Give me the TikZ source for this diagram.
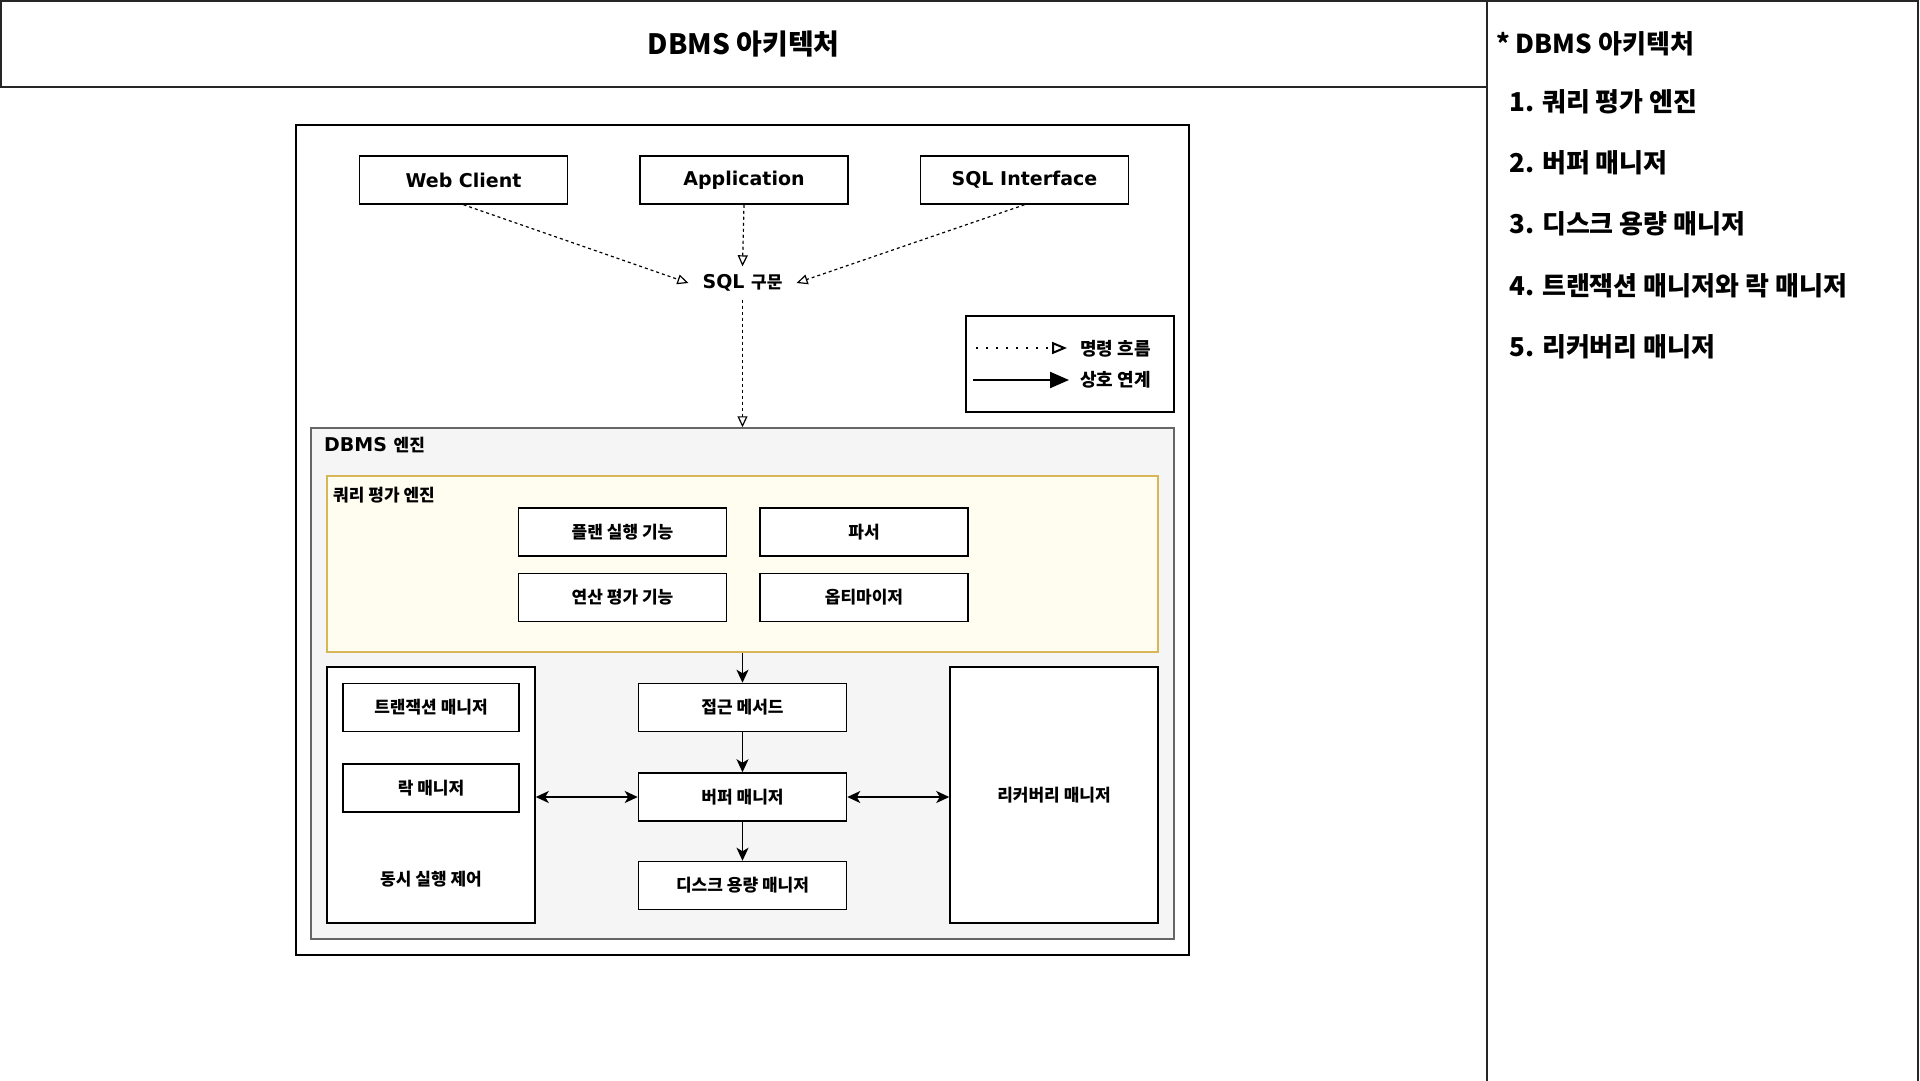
\documentclass[tikz,border=0pt]{standalone}
\usepackage{fontspec}
\setmainfont{DejaVu Sans}
\newfontfamily\kr{Noto Sans CJK KR}
\newfontfamily\krheavy{Noto Sans CJK KR Black}
\usetikzlibrary{arrows.meta,positioning}
\definecolor{qfill}{HTML}{FFFDF0}
\definecolor{qline}{HTML}{D6B656}
\definecolor{engfill}{HTML}{F5F5F5}
\definecolor{engline}{HTML}{666666}

\begin{document}
\begin{tikzpicture}[
  x=1pt,y=-1pt,
  >={Stealth[length=13pt,width=12pt,inset=3.5pt]},
  latin/.style={font=\bfseries\fontsize{19}{22}\selectfont},
  hangul/.style={font=\kr\bfseries\fontsize{17}{20}\selectfont},
  frame/.style={draw=black!85,line width=1.5pt,inner sep=0pt},
  box/.style={draw=black,line width=1.5pt,fill=white,minimum width=208pt,minimum height=48pt,inner sep=0pt},
  small box/.style={box,minimum width=176pt},
  tall box/.style={box,minimum height=256pt},
  group/.style={draw=engline,line width=1.5pt,fill=engfill,inner sep=0pt},
  query/.style={draw=qline,line width=1.5pt,fill=qfill,inner sep=0pt},
  flow/.style={line width=1.2pt,dash pattern=on 3pt off 3pt,-{Triangle[open,length=11pt,width=10pt]}},
  link/.style={line width=1.5pt,->},
  heading/.style={font=\krheavy\fontsize{28}{32}\selectfont},
  item/.style={font=\krheavy\fontsize{26}{30}\selectfont,anchor=west,inner sep=0pt},
  legend text/.style={font=\kr\bfseries\fontsize{18}{21}\selectfont,anchor=west,inner sep=0pt}
]
\useasboundingbox (0,0) rectangle (1920,1080);

% title band and notes
\node[frame,heading,minimum width=1486pt,minimum height=86pt] (title) at (743.75,43.75) {DBMS 아키텍처};
\draw[frame] (1487,1081) |- (1918,0.75) -- (1918,1081);
\node[item] (notes) at (1496,44) {* DBMS 아키텍처};
\node[item] (note1) at (1509,102) {1. 쿼리 평가 엔진};
\node[item] (note2) at (1509,163) {2. 버퍼 매니저};
\node[item] (note3) at (1509,224) {3. 디스크 용량 매니저};
\node[item] (note4) at (1509,286) {4. 트랜잭션 매니저와 락 매니저};
\node[item] (note5) at (1509,347) {5. 리커버리 매니저};

% diagram frame and clients
\node[frame,draw=black,minimum width=893pt,minimum height=830pt] (diagram) at (742.5,540) {};
\node[box,latin] (web) at (463.5,180) {Web Client};
\node[box,latin,right=71pt of web] (app) {Application};
\node[box,latin,right=71pt of app] (sqlif) {SQL Interface};
\node[latin,inner xsep=14pt,inner ysep=8pt,text height=14pt,text depth=3pt] (sql) at (742.5,283) {SQL {\kr\fontsize{17}{20}\selectfont 구문}};

% legend
\node[frame,draw=black,minimum width=208pt,minimum height=96pt] (legend) at (1070,364) {};
\node[legend text] (cmd) at (1080,349) {명령 흐름};
\node[legend text] (rel) at (1080,380) {상호 연계};
\coordinate (cmd start) at (976,348);
\coordinate (rel start) at (973,380);
\draw[line width=2pt,dash pattern=on 2pt off 8pt,-{Triangle[open,length=15pt,width=12pt]}] (cmd start) -- ([xshift=-13pt]cmd.west |- cmd start);
\draw[line width=2.2pt,-{Triangle[length=19pt,width=16pt]}] (rel start) -- ([xshift=-11pt]rel.west |- rel start);

% DBMS engine
\node[group,minimum width=863pt,minimum height=511pt] (engine) at (742.5,683.5) {};
\node[latin,anchor=west,inner sep=0pt] (engine label) at (324,445) {DBMS {\kr\fontsize{17}{20}\selectfont 엔진}};
\node[query,minimum width=831pt,minimum height=176pt] (qe) at (742.5,564) {};
\node[hangul,anchor=west,inner sep=0pt] (qe label) at (333,495) {쿼리 평가 엔진};
\node[box,hangul] (plan) at (622.5,532) {플랜 실행 기능};
\node[box,hangul,right=32pt of plan] (parser) {파서};
\node[box,hangul,below=16pt of plan] (oper) {연산 평가 기능};
\node[box,hangul,below=16pt of parser] (optim) {옵티마이저};

% storage side
\node[tall box] (conc) at (431,795) {};
\node[small box,hangul] (tx) at (431,707.5) {트랜잭션 매니저};
\node[small box,hangul,below=31pt of tx] (lock) {락 매니저};
\node[hangul] (conc label) at (431,879) {동시 실행 제어};
\node[box,hangul] (access) at (742.5,707.5) {접근 메서드};
\node[box,hangul,below=40pt of access] (buffer) {버퍼 매니저};
\node[box,hangul,below=39pt of buffer] (disk) {디스크 용량 매니저};
\node[tall box,hangul] (recovery) at (1054,795) {리커버리 매니저};

\draw[flow] (web.south) -- (sql.west);
\draw[flow] (app.south) -- (sql.north);
\draw[flow] (sqlif.south) -- (sql.east);
\draw[flow] (sql.south) -- (sql.south |- engine.north);
\draw[link] (access.north |- qe.south) -- (access.north);
\draw[link] (access) -- (buffer);
\draw[link] (buffer) -- (disk);
\draw[link,<->] (conc.east |- buffer) -- (buffer.west);
\draw[link,<->] (buffer.east) -- (recovery.west |- buffer);
\end{tikzpicture}
\end{document}
